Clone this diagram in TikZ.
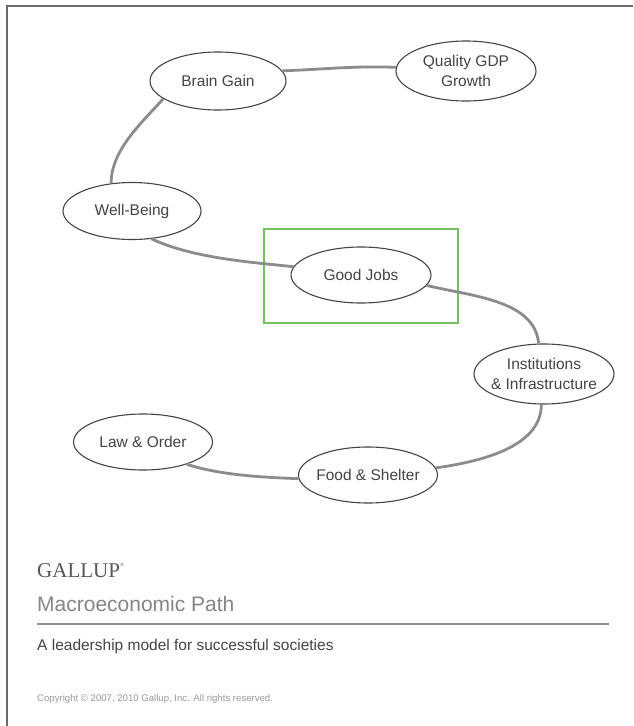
\documentclass[tikz,border=0pt]{standalone}
\usepackage{fontspec}
\setmainfont{Liberation Sans}
\newfontfamily\serifgallup{Liberation Serif}
\usetikzlibrary{shapes.geometric}
\definecolor{edgegray}{HTML}{8C8C8C}
\definecolor{ovalgray}{HTML}{454545}
\definecolor{txtgray}{HTML}{444444}
\definecolor{framegray}{HTML}{6A6A6A}
\definecolor{greenbox}{HTML}{72C15C}
\tikzset{
  oval/.style={ellipse, draw=ovalgray, line width=1.1pt, fill=white,
    minimum width=#1, text=txtgray, font=\fontsize{15.5}{19.5}\selectfont, align=center, inner sep=0pt},
  oval/.default=138pt,
  link/.style={draw=edgegray, line width=2.8pt},
}
\begin{document}
\begin{tikzpicture}[x=1pt,y=-1pt]
\useasboundingbox (0,0) rectangle (633,726);
\fill[white] (0,0) rectangle (633,726);
\draw[framegray, line width=1.5pt] (7,726) -- (7,6) -- (633,6);
% green highlight box
\node[draw=greenbox, line width=2.4pt, minimum width=194pt, minimum height=94pt, inner sep=0pt] (hl) at (361,276) {};
% ovals
\node[oval=136pt, minimum height=58pt] (bg) at (218,81) {Brain Gain};
\node[oval=140pt, minimum height=60pt] (qg) at (466,71) {Quality GDP\\Growth};
\node[oval=138pt, minimum height=57pt] (wb) at (132,211) {Well-Being};
\node[oval=140pt, minimum height=56pt] (gj) at (361,275) {Good Jobs};
\node[oval=140pt, minimum height=60pt, inner xsep=-4pt, inner ysep=-2pt] (in) at (544,374) {Institutions\\\& Infrastructure};
\node[oval=139pt, minimum height=56pt] (lo) at (143,442) {Law \& Order};
\node[oval=139pt, minimum height=56pt, inner xsep=-3pt] (fs) at (368,475) {Food \& Shelter};
% connectors
\draw[link] (bg.9) to[out=2, in=178] (qg.177);
\draw[link] (bg.198) to[out=228, in=90, looseness=0.85] (wb.127);
\draw[link] (wb.-55) to[out=-25, in=174, looseness=0.8] (gj.173);
\draw[link] (gj.-9) to[out=-14, in=95, looseness=0.9] (in.100);
\draw[link] (in.-95) to[out=-90, in=8, looseness=0.9] (fs.6);
\draw[link] (fs.183) to[out=178, in=-18, looseness=0.8] (lo.-27);
% footer
\node[anchor=base west, inner sep=0pt, text=txtgray!90, font=\serifgallup\fontsize{21}{21}\selectfont] (gallup) at (37,577) {GALLUP\raisebox{1.1ex}{\fontsize{5}{5}\selectfont\textregistered}};
\node[anchor=base west, inner sep=0pt, text=black!48, font=\fontsize{21}{21}\selectfont] (title) at (37,611) {Macroeconomic Path};
\coordinate (rl) at (37,624);
\coordinate (rr) at (609,624);
\draw[black!45, line width=1.5pt] (rl) -- (rr);
\node[anchor=base west, inner sep=0pt, text=txtgray, font=\fontsize{15.5}{15.5}\selectfont] (sub) at (37,650) {A leadership model for successful societies};
\node[anchor=base west, inner sep=0pt, text=black!40, font=\fontsize{9.6}{9.6}\selectfont] (copy) at (37,701) {Copyright © 2007, 2010 Gallup, Inc. All rights reserved.};
\end{tikzpicture}
\end{document}
